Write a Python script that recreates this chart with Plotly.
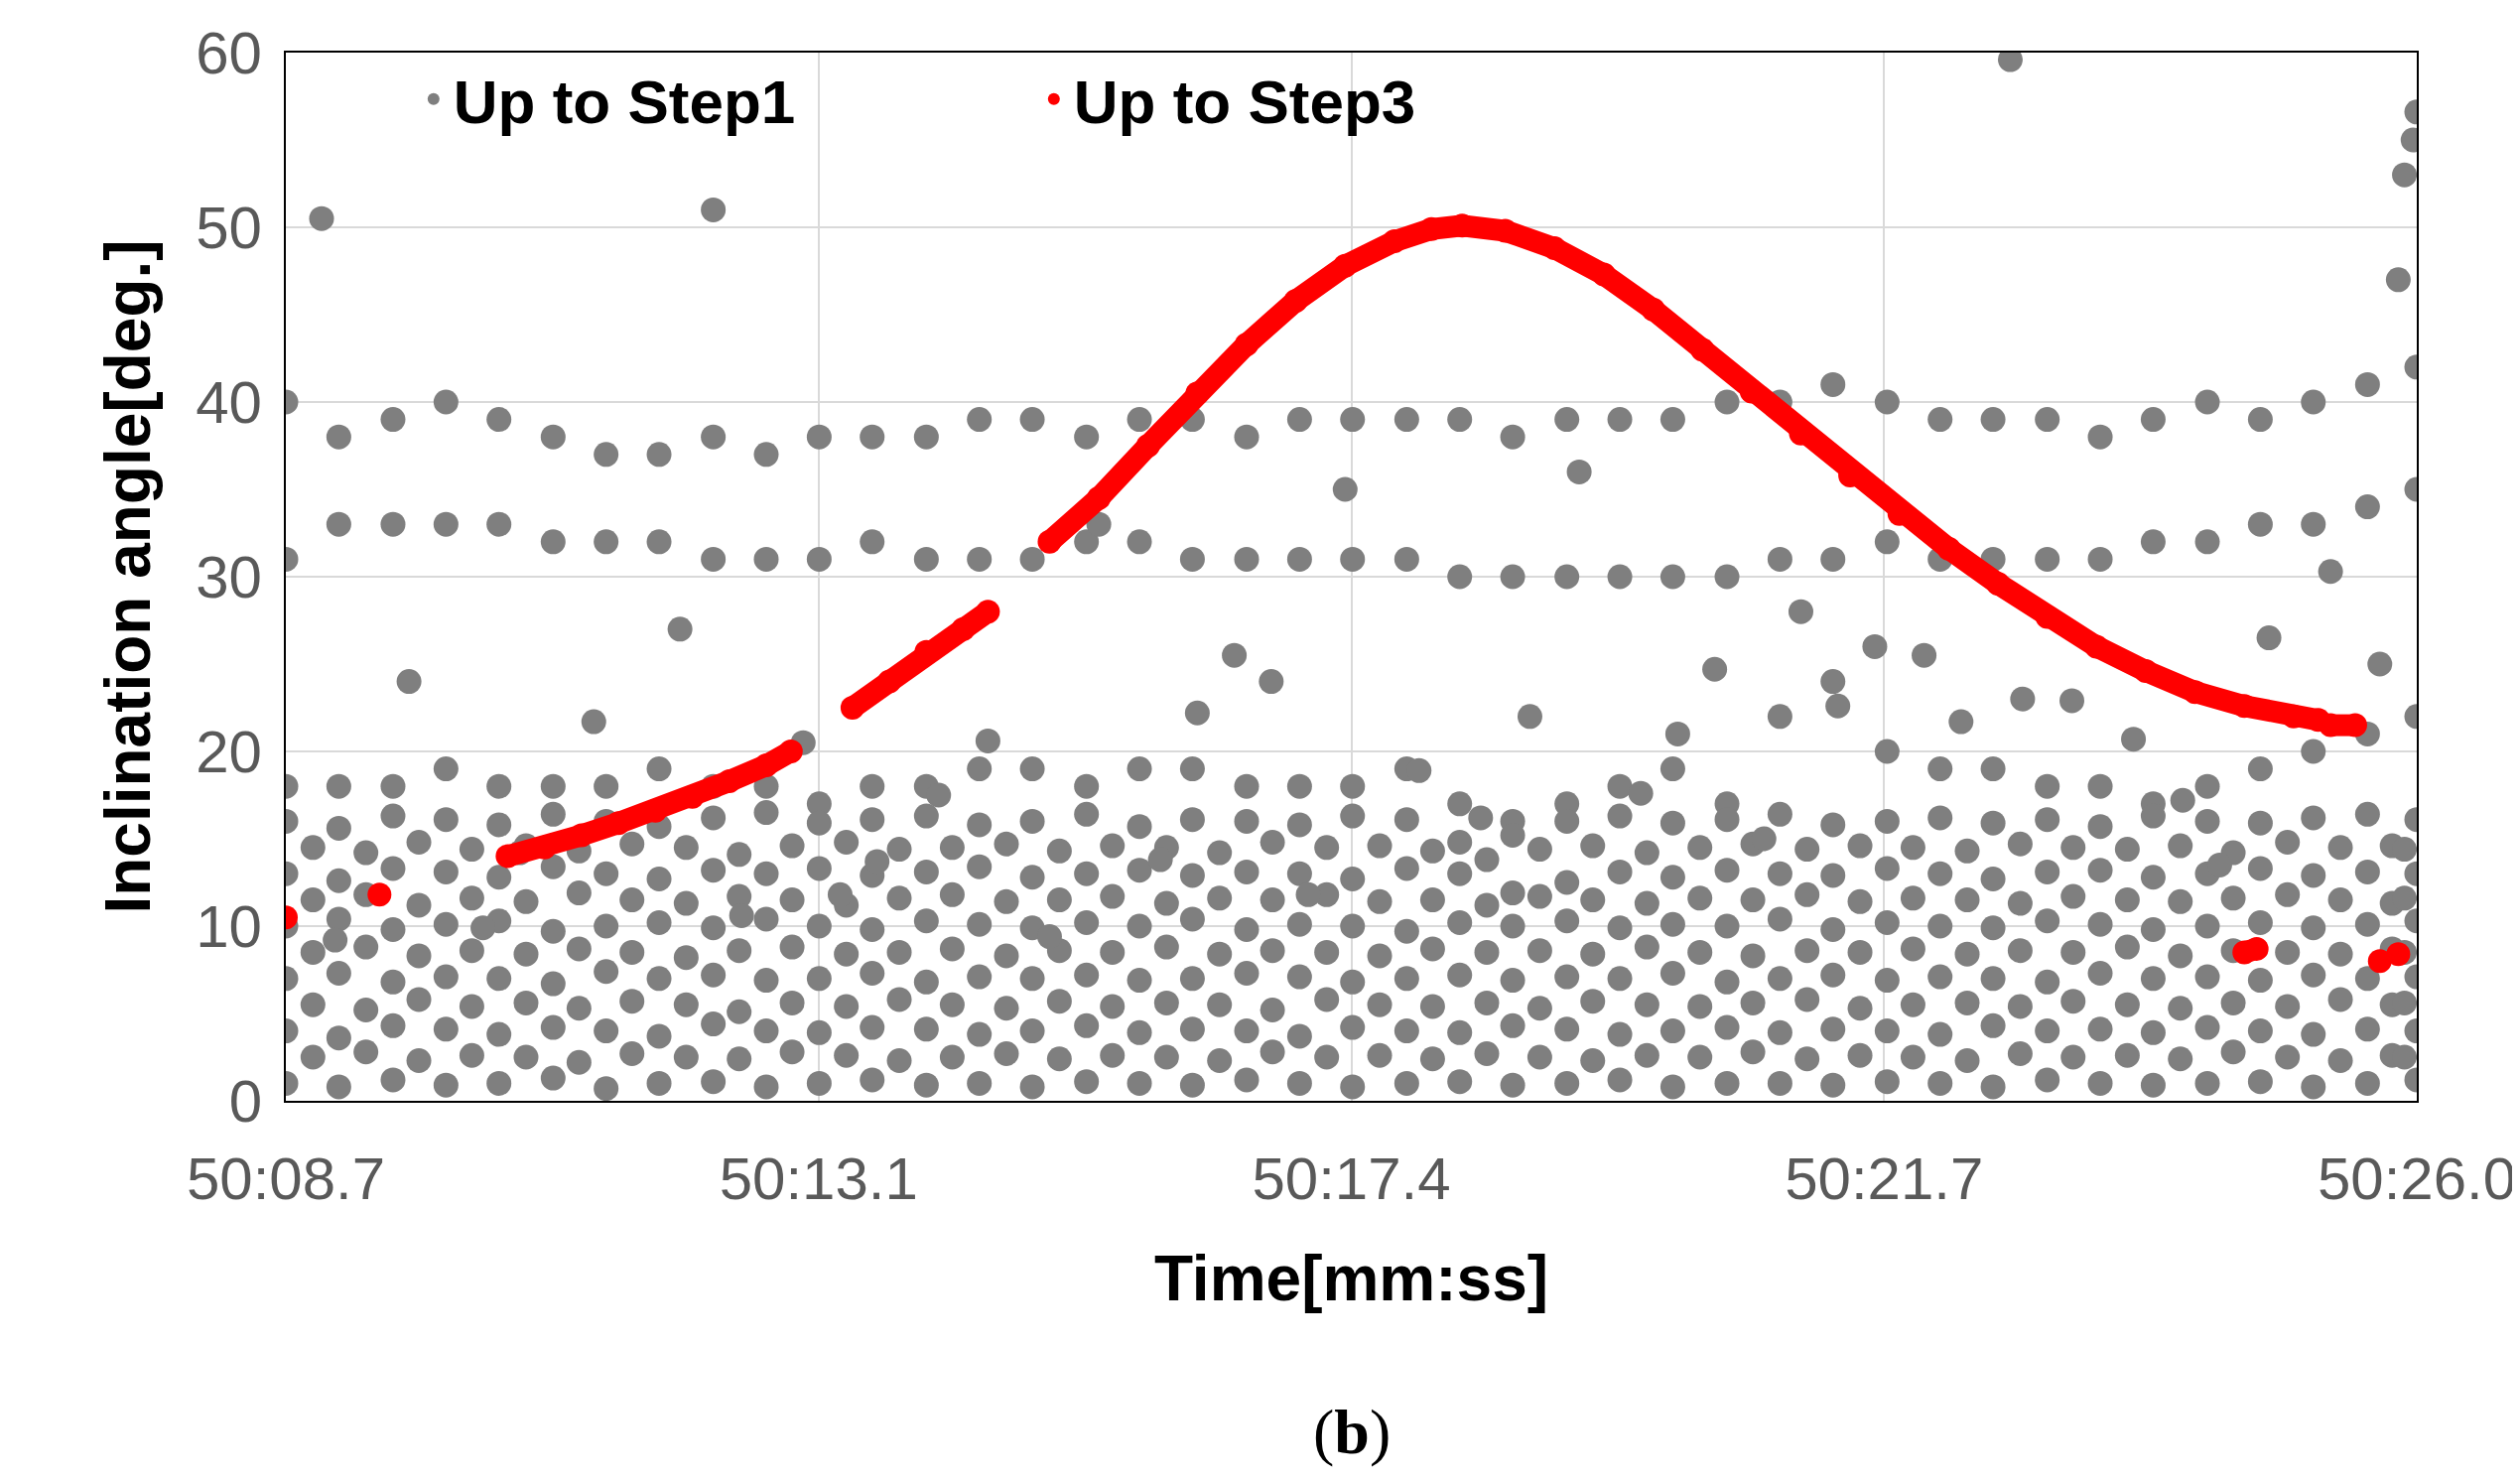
import plotly.graph_objects as go

T = [8.7,9.13,9.57,10.0,10.43,10.87,11.3,11.73,12.17,12.6,13.03,13.46,13.9,14.33,14.76,15.2,15.63,16.06,16.5,16.93,17.36,17.8,18.23,18.66,19.1,19.53,19.96,20.4,20.83,21.26,21.7,22.13,22.56,23.0,23.43,23.86,24.3,24.73,25.16,25.6,26.0]
TS = [8.92,9.35,9.78,10.21,10.65,11.08,11.51,11.95,12.38,12.81,13.25,13.68,14.11,14.55,14.98,15.41,15.85,16.28,16.71,17.15,17.58,18.01,18.45,18.88,19.31,19.75,20.18,20.61,21.05,21.48,21.91,22.35,22.78,23.21,23.65,24.08,24.51,24.95,25.38,25.8,25.9]

b39 = [40,38,39,40,39,38,37,37,38,37,38,38,38,39,39,38,39,39,38,39,39,39,39,38,39,39,39,40,40,41,40,39,39,39,38,39,40,39,40,41,42]
b32 = [31,33,33,33,33,32,32,32,31,31,31,32,31,31,31,32,32,31,31,31,31,31,30,30,30,30,30,30,31,31,32,31,31,31,31,32,32,33,33,34,35]
b18 = [18,18,18,19,18,18,18,19,18,18,17,18,18,19,19,18,19,19,18,18,18,19,17,16,17,18,19,17,22,24,20,19,19,18,18,17,18,19,20,21,22]

lowA = [
 [1,0.8,1.2,0.9,1,1.3,0.7,1,1.1,0.8,1,1.2,0.9,1,0.8,1.1,1,0.9,1.2,1,0.8,1,1.1,0.9,1,1.2,0.8,1,1,0.9,1.1,1,0.8,1.2,1,0.9,1,1.1,0.8,1,1.2],
 [4,3.6,4.3,4.1,3.8,4.2,4,3.7,4.4,4,3.9,4.2,4.1,3.8,4,4.3,3.9,4.1,4,3.7,4.2,4,3.9,4.3,4.1,3.8,4,4.2,3.9,4.1,4,3.8,4.3,4,4.1,3.9,4.2,4,3.8,4.1,4],
 [7,7.3,6.8,7.1,7,6.7,7.4,7,7.2,6.9,7,7.3,6.8,7.1,7,7.2,6.9,7,7.3,7.1,6.8,7,7.2,6.9,7.1,7,7.3,6.8,7,7.2,6.9,7.1,7,6.8,7.3,7,7.1,6.9,7.2,7,7.1],
 [10,10.4,9.8,10.1,10.3,9.7,10,10.2,9.9,10.4,10,9.8,10.3,10.1,9.9,10.2,10,10.4,9.8,10.1,10,9.7,10.2,10,10.3,9.9,10.1,10,10.4,9.8,10.2,10,9.9,10.3,10.1,9.8,10,10.2,9.9,10.1,10.3],
 [13,12.6,13.3,13.1,12.8,13.4,13,12.7,13.2,13,13.3,12.9,13.1,13.4,12.8,13,13.2,12.9,13.1,13,12.7,13.3,13,11.9,12.5,13.1,12.8,13.2,13,12.9,13.3,13,12.7,13.1,13.2,12.8,13,13.3,12.9,13.1,13],
 [16,15.6,16.3,16.1,15.8,16.4,16,15.7,16.2,16.5,15.9,16.1,16.3,15.8,16,16.4,15.7,16.1,16,15.8,16.3,16.1,14.8,15.2,16,16.3,15.9,16.1,16.4,15.8,16,16.2,15.9,16.1,15.7,16.3,16,15.9,16.2,16.4,16.1],
]
lowB = [
 [2.5,2.8,2.3,2.6,2.5,2.2,2.7,2.5,2.4,2.8,2.6,2.3,2.5,2.7,2.4,2.6,2.5,2.3,2.8,2.5,2.6,2.4,2.7,2.5,2.3,2.6,2.5,2.8,2.4,2.6,2.5,2.3,2.7,2.5,2.6,2.4,2.8,2.5,2.3,2.6,2.5],
 [5.5,5.2,5.8,5.4,5.6,5.3,5.7,5.5,5.1,5.6,5.4,5.8,5.5,5.3,5.7,5.4,5.6,5.5,5.2,5.8,5.5,5.4,5.6,5.3,5.7,5.5,5.4,5.6,5.8,5.3,5.5,5.6,5.4,5.7,5.5,5.3,5.6,5.4,5.8,5.5,5.6],
 [8.5,8.8,8.3,8.6,8.4,8.7,8.5,8.2,8.6,8.8,8.4,8.5,8.7,8.3,8.6,8.5,8.8,8.4,8.6,8.5,8.3,8.7,8.5,8.6,8.4,8.8,8.5,8.3,8.6,8.5,8.7,8.4,8.6,8.5,8.8,8.3,8.6,8.5,8.4,8.7,8.5],
 [11.5,11.8,11.2,11.6,11.4,11.9,11.5,11.3,11.7,11.5,11.2,11.6,11.8,11.4,11.5,11.7,11.3,11.6,11.5,11.8,11.4,11.5,11.2,11.7,11.5,11.3,11.6,11.5,11.8,11.4,11.6,11.5,11.3,11.7,11.5,11.4,11.6,11.8,11.5,11.3,11.6],
 [14.5,14.2,14.8,14.4,14.6,14.3,14.7,14.5,14.1,14.6,14.8,14.4,14.5,14.7,14.3,14.6,14.5,14.2,14.8,14.5,14.6,14.3,13.8,14.4,14.6,14.2,14.5,14.7,14.4,14.6,14.5,14.3,14.7,14.5,14.4,14.6,14.2,14.8,14.5,14.6,14.4],
]
mid = [9.2,24,9.9,14.2,21.7,27,10.6,20.5,11.8,13.7,17.5,20.6,9.4,33,13.8,22.2,25.5,24,11.8,35,18.9,16.2,22,36,17.6,21,24.7,15,28,22.6,26,25.5,21.7,23,22.9,20.7,17.2,13.5,26.5,30.3,25]
midX = [9.1,9.7,10.3,10.6,11.2,11.9,12.4,12.9,13.2,13.5,14.0,14.4,14.9,15.3,15.8,16.1,16.4,16.7,17.0,17.3,17.9,18.4,18.8,19.2,19.7,20.0,20.3,20.7,21.0,21.3,21.6,22.0,22.3,22.8,23.2,23.7,24.1,24.4,24.8,25.3,25.7]
outX = [8.99,12.17,22.7,25.9,25.97,26.0,25.85]
outY = [50.5,51,59.6,53,55,56.6,47]

redX = [8.7,None,9.46,None,10.5,10.8,11.1,11.4,11.7,12.0,12.3,12.6,12.8,None,13.3,13.6,13.9,14.2,14.4,None,
        14.9,15.3,15.7,16.1,16.5,16.9,17.3,17.7,18.0,18.25,18.6,19.0,19.4,19.8,20.2,20.6,21.0,21.4,21.8,22.2,22.6,23.0,23.4,23.8,24.2,24.6,25.0,25.2,None,25.3,25.5,None,
        24.6,24.7,None,25.7,None,25.85]
redY = [10.5,None,11.8,None,14,14.5,15.2,15.9,16.6,17.4,18.3,19.2,20,None,22.5,24,25.7,27,28,None,
        32,34.5,37.5,40.5,43.3,45.8,47.8,49.2,49.9,50.1,49.8,48.8,47.3,45.3,43,40.6,38.2,35.8,33.6,31.6,29.6,27.7,26,24.6,23.4,22.6,22,21.8,None,21.5,21.5,None,
        8.5,8.7,None,8,None,8.4]

tickVals = [8.7,13.025,17.35,21.675,26.0]
tickText = ["50:08.7","50:13.1","50:17.4","50:21.7","50:26.0"]

gx, gy = [], []
for arr in [b39, b32, b18] + lowA:
    gx += T; gy += arr
for arr in lowB:
    gx += TS; gy += arr
gx += midX; gy += mid
gx += outX; gy += outY

GRAY = "#7f7f7f"
RED = "#ff0000"
fig = go.Figure()
fig.add_trace(go.Scatter(x=gx, y=gy, mode="markers", name="<b>Up to Step1</b>",
                         marker=dict(color=GRAY, size=25)))
fig.add_trace(go.Scatter(x=redX, y=redY, mode="lines+markers", showlegend=False,
                         line=dict(color=RED, width=22), marker=dict(color=RED, size=24)))
fig.add_trace(go.Scatter(x=[None], y=[None], mode="markers", name="<b>Up to Step3</b>",
                         marker=dict(color=RED, size=24)))
fig.update_layout(
    width=2539, height=1491, plot_bgcolor="white", paper_bgcolor="white",
    margin=dict(l=280, r=110, t=45, b=390),
    font=dict(family="Liberation Sans, Arial", color="#595959", size=60),
    legend=dict(orientation="h", x=0.06, y=1.0, xanchor="left", yanchor="top",
                bgcolor="rgba(0,0,0,0)", font=dict(size=62, color="black"),
                entrywidth=580, itemsizing="constant"),
    xaxis=dict(range=[8.7, 26.0], tickvals=tickVals, ticktext=tickText, showgrid=True,
               gridcolor="#d9d9d9", gridwidth=2, zeroline=False, showline=True, linecolor="black",
               linewidth=2, mirror=True, ticks="", ticklabelstandoff=25,
               title=dict(text="<b>Time[mm:ss]</b>", font=dict(size=64, color="black"), standoff=45)),
    yaxis=dict(range=[0, 60], dtick=10, showgrid=True, gridcolor="#d9d9d9", gridwidth=2,
               zeroline=False, showline=True, linecolor="black", linewidth=2, mirror=True,
               ticklabelstandoff=10,
               title=dict(text="<b>Inclination angle[deg.]</b>", font=dict(size=64, color="black"), standoff=25)),
)
fig.add_annotation(text="(<b>b</b>)", x=0.5, y=-0.28, xref="paper", yref="paper", showarrow=False,
                   font=dict(family="Liberation Serif, Times New Roman", size=64, color="black"), yanchor="top")
fig.write_html("out.html")
